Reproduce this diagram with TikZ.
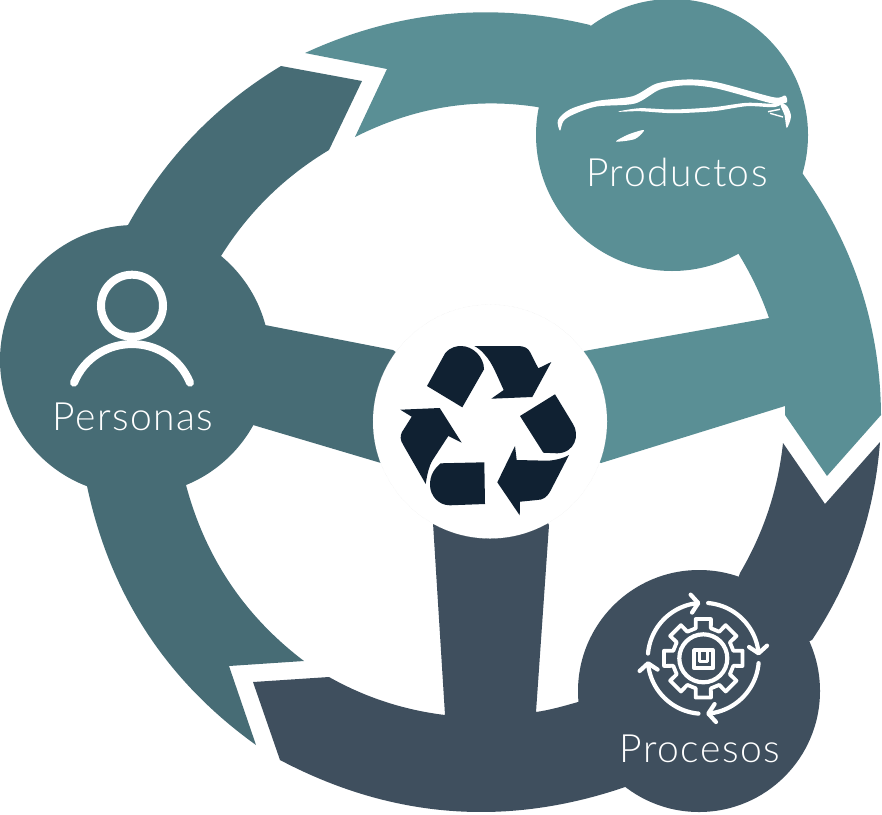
\documentclass[tikz,border=0pt]{standalone}
\usepackage{fontspec}
\setmainfont{Lato Light}[LetterSpace=3.8]
\usepackage{tikz}
\usetikzlibrary{arrows.meta}
\definecolor{personascol}{HTML}{476C75}
\definecolor{productoscol}{HTML}{5A8F95}
\definecolor{procesoscol}{HTML}{3F4F5E}
\definecolor{iconcol}{HTML}{102132}
\tikzstyle{hub}=[%
      circle, inner sep=0pt, outer sep=0pt
]
\tikzstyle{lbl}=[%
      text=white, inner sep=0pt, font=\fontsize{39}{39}\selectfont
]
\tikzstyle{wline}=[%
      draw=white, line width=4.2pt, line cap=round, line join=round
]
\begin{document}
\begin{tikzpicture}[x=1pt,y=-1pt]
\useasboundingbox (0,0) rectangle (882,814);

\node[hub, fill=personascol, minimum size=270pt] (personas) at (135,360) {};
\node[hub, fill=productoscol, minimum size=272pt] (productos) at (672,135) {};
\node[hub, fill=procesoscol, minimum size=242pt] (procesos) at (699,691) {};
\coordinate (middle) at (490,421);

% bands with their spokes
\fill[personascol] (281,66) .. controls (215.8,105.3) and (164.8,158.3) .. (128,225)
  -- (personas.center) -- (87,486) .. controls (109.8,594.2) and (166.2,680.6) .. (256,745)
  -- (229,666) -- (304,661) .. controls (244.5,615.9) and (205.2,557.2) .. (186,485)
  -- (personas.center) -- (253,425) -- (381,463) -- (middle) -- (393,350) -- (265,325)
  -- (personas.center) -- (221,256) .. controls (248.5,212) and (284.5,176.7) .. (329,150)
  -- (362,81) -- cycle;
\fill[productoscol] (305,53) .. controls (396.7,10.7) and (491.7,1.4) .. (590,25)
  -- (productos.center) -- (800,170) .. controls (853.3,243) and (880.3,325.6) .. (881,415)
  -- (827,476) -- (785,415) -- (785,406) -- (601,463) -- (middle) -- (584,351) -- (769,318)
  .. controls (761,295) and (750.7,273.5) .. (738,253)
  -- (productos.center) -- (537,107) .. controls (472.4,97) and (412,108.3) .. (355,137)
  -- (387,69) -- cycle;
\fill[procesoscol] (880,442) .. controls (874.5,513.9) and (851.9,580) .. (812,640)
  -- (procesos.center) -- (628,786) .. controls (508.2,827.8) and (392.2,819.2) .. (280,760)
  -- (253,682) -- (329,677) .. controls (365.2,697.4) and (403.8,710) .. (445,715)
  -- (433,523) -- (middle) -- (549,525) -- (536,712) .. controls (550,710) and (564,706) .. (578,702)
  -- (procesos.center) -- (740,573) .. controls (763.6,532.8) and (778,489.4) .. (783,443)
  -- (825,504) -- cycle;

% middle disc
\node[hub, fill=white, draw=gray!20, densely dotted, line width=0.3pt, minimum size=234pt] (disc) at (490,421.5) {};

% recycling sign
\fill[iconcol] (427,386) -- (445,353.5) .. controls (450,347) and (457,346) .. (461,346)
  .. controls (473,346) and (484,357) .. (484,369.3) -- (462.3,407.3) -- cycle;
\fill[iconcol] (474.3,346) -- (518,346) .. controls (524,346) and (528,348) .. (530,352)
  -- (538.3,368.3) -- (551.3,362) -- (532.3,397) -- (491.3,398.7) -- (503.7,390)
  .. controls (498,378) and (492,362) .. (485,355) .. controls (482,351) and (478,348) .. (474.3,346);
\fill[iconcol] (520,416) -- (555,394.3) -- (573,424) .. controls (580,435) and (575,453) .. (557,453.3)
  -- (543.3,452.7) -- cycle;
\fill[iconcol] (515,446) -- (516.7,460) -- (547,460.7) .. controls (555,460.5) and (564,458) .. (569,455)
  -- (550,491.7) .. controls (547,497) and (543,500) .. (537,500) -- (520,501.7) -- (519.7,515.3)
  -- (497.3,482.3) -- cycle;
\fill[iconcol] (484.3,462.3) -- (485,504) -- (450,505.3) .. controls (438,505.3) and (430,495) .. (430,485)
  .. controls (430,475) and (434,469) .. (440.7,463.3) -- cycle;
\fill[iconcol] (400.3,409.7) -- (439.7,408) -- (461.7,442.7) -- (448.3,436) -- (432.7,460)
  .. controls (429,466) and (427,475) .. (425.7,484) -- (403.3,445)
  .. controls (400,440) and (400,436) .. (402,432) -- (411.7,416.7) -- cycle;

% person
\coordinate (head) at (132,305.7);
\draw[white, line width=8pt] (head) circle[radius=31pt];
\coordinate (armleft) at (74,382.7);
\coordinate (armright) at (190,382.7);
\draw[white, line width=8pt, line cap=round] (armleft) .. controls (95.4,331.2) and (168.6,331.2) .. (armright);
\node[lbl] (personaslbl) at (133,417) {Personas};

% car
\fill[white] plot[smooth cycle, tension=0.5] coordinates {(560,130.7) (558,120) (570,109.3) (596.7,101) (632.7,96.2) (656.7,83.5) (686.7,79.5) (716.7,82.2) (773.3,97.2) (785,95.5) (787,102) (780,103.7) (770,103) (716.7,88.5) (686.7,85.3) (660,89.5) (635,103.5) (596.7,106.5) (573.3,114.5) (563.5,121)};
\fill[white] plot[smooth cycle, tension=0.5] coordinates {(618.3,111.7) (640,108.2) (673.3,109.5) (713.3,107.2) (746.7,102.8) (773.3,103.8) (780.7,101.2) (782,103.8) (773.3,107.2) (746.7,106.2) (713.3,111.2) (673.3,113.2) (640,111.2)};
\fill[white] plot[smooth cycle, tension=0.5] coordinates {(780.7,102.2) (787.5,106.7) (791,116.7) (786.7,128) (784.5,115) (781,106.7)};
\fill[white] plot[smooth cycle, tension=0.5] coordinates {(616,141.5) (628.3,134.5) (644,130) (635,139)};
\draw[white, line width=1.4pt] (768,111.7) -- (780,109.3);
\draw[white, line width=1.4pt] (770,113.3) -- (783,117);
\node[lbl] (productoslbl) at (677,172) {Productos};

% gear with cycle arrows
\coordinate (gearmid) at (703.3,658.3);
\begin{scope}[shift={(gearmid)}]
\foreach \k in {0,90,180,270}
  \draw[wline, -{Straight Barb[length=7pt,width=18pt,round]}]
    plot[domain=185+\k:267+\k, samples=30] ({55.5*cos(\x)},{55.5*sin(\x)});
\draw[wline, line width=3.8pt] (-14:31)
  \foreach \a in {0,45,...,315} {
    -- ({\a-14}:31) -- ({\a-11}:40) -- ({\a+11}:40) -- ({\a+14}:31)
  } -- cycle;
\draw[wline] (0,0) circle[radius=24pt];
\end{scope}
\draw[wline, line width=3.8pt] (694,650) rectangle (712.7,668.3);
\draw[wline, line width=3.2pt] (699.3,650) -- (699.3,661.7) -- (707.3,661.7) -- (707.3,650);
\node[lbl] (procesoslbl) at (700,749) {Procesos};
\end{tikzpicture}
\end{document}
